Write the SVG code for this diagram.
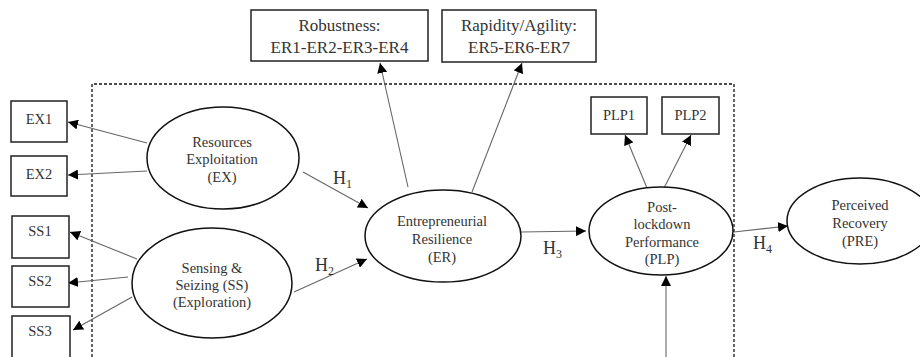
<svg xmlns="http://www.w3.org/2000/svg" width="920" height="357" viewBox="0 0 920 357">
<style>
  .box{fill:#fff;stroke:#222;stroke-width:1.5}
  .ell{fill:#fff;stroke:#111;stroke-width:1.5}
  .t{font-family:"Liberation Serif","Times New Roman",serif;font-size:14.5px;fill:#333;text-anchor:middle}
  .tb{font-family:"Liberation Serif","Times New Roman",serif;font-size:17px;fill:#333;text-anchor:middle}
  .h{font-family:"Liberation Serif","Times New Roman",serif;font-size:18px;fill:#333}
  .sub{font-size:12px}
  .c{stroke:#666;stroke-width:1.1;fill:none;marker-end:url(#ah)}
  .dash{fill:none;stroke:#111;stroke-width:1.3;stroke-dasharray:3 2}
</style>
<defs>
  <marker id="ah" viewBox="0 0 10 10" refX="10" refY="5" markerWidth="10" markerHeight="10" markerUnits="userSpaceOnUse" orient="auto">
    <path d="M0,0 L10,5 L0,10 z" fill="#000"/>
  </marker>
</defs>
<rect width="920" height="357" fill="#fff"/>
<path class="dash" d="M92,357 V84 H734 V357"/>

<g id="connectors">
  <line class="c" x1="147" y1="143" x2="68" y2="122"/>
  <line class="c" x1="147" y1="171" x2="68" y2="175"/>
  <line class="c" x1="137" y1="259" x2="70" y2="232"/>
  <line class="c" x1="128" y1="277" x2="68" y2="283"/>
  <line class="c" x1="132" y1="297" x2="73" y2="330"/>
  <line class="c" x1="303" y1="172" x2="368" y2="208"/>
  <line class="c" x1="294" y1="292" x2="367" y2="259"/>
  <line class="c" x1="408" y1="187" x2="380" y2="63"/>
  <line class="c" x1="472" y1="192" x2="522" y2="63"/>
  <line class="c" x1="521" y1="232" x2="586" y2="231"/>
  <line class="c" x1="647" y1="188" x2="625" y2="135"/>
  <line class="c" x1="664" y1="188" x2="691" y2="135"/>
  <line class="c" x1="734" y1="232" x2="788" y2="226"/>
  <line class="c" x1="666" y1="357" x2="666" y2="276"/>
  <text class="h" x="333" y="184">H<tspan class="sub" dy="4">1</tspan></text>
  <text class="h" x="315" y="271">H<tspan class="sub" dy="4">2</tspan></text>
  <text class="h" x="543" y="254">H<tspan class="sub" dy="4">3</tspan></text>
  <text class="h" x="753" y="249">H<tspan class="sub" dy="4">4</tspan></text>
</g>

<g id="robustness">
  <rect class="box" x="251" y="10" width="177" height="51"/>
  <text class="tb" x="339.5" y="31">Robustness:</text>
  <text class="tb" x="339.5" y="53">ER1-ER2-ER3-ER4</text>
</g>
<g id="rapidity">
  <rect class="box" x="442" y="10" width="154" height="52"/>
  <text class="tb" x="519" y="31">Rapidity/Agility:</text>
  <text class="tb" x="519" y="53">ER5-ER6-ER7</text>
</g>
<g id="ex1"><rect class="box" x="11" y="101" width="56" height="41"/><text class="t" x="39" y="124">EX1</text></g>
<g id="ex2"><rect class="box" x="11" y="156" width="56" height="40"/><text class="t" x="39" y="179">EX2</text></g>
<g id="ss1"><rect class="box" x="12" y="216" width="57" height="42"/><text class="t" x="40" y="236">SS1</text></g>
<g id="ss2"><rect class="box" x="12" y="266" width="57" height="41"/><text class="t" x="40" y="286">SS2</text></g>
<g id="ss3"><rect class="box" x="12" y="316" width="58" height="50"/><text class="t" x="40" y="336">SS3</text></g>
<g id="plp1"><rect class="box" x="591" y="97" width="56" height="37"/><text class="t" x="619" y="120">PLP1</text></g>
<g id="plp2"><rect class="box" x="662" y="97" width="57" height="37"/><text class="t" x="690.5" y="120">PLP2</text></g>

<g id="ex">
  <ellipse class="ell" cx="223" cy="158" rx="76" ry="51"/>
  <text class="t" x="222" y="147">Resources</text>
  <text class="t" x="222" y="164">Exploitation</text>
  <text class="t" x="222" y="182">(EX)</text>
</g>
<g id="ss">
  <ellipse class="ell" cx="212" cy="283" rx="80" ry="55"/>
  <text class="t" x="212" y="273">Sensing &amp;</text>
  <text class="t" x="212" y="290">Seizing (SS)</text>
  <text class="t" x="212" y="307">(Exploration)</text>
</g>
<g id="er">
  <ellipse class="ell" cx="443" cy="236" rx="78" ry="46"/>
  <text class="t" x="442" y="226">Entrepreneurial</text>
  <text class="t" x="442" y="244">Resilience</text>
  <text class="t" x="442" y="262">(ER)</text>
</g>
<g id="plp">
  <ellipse class="ell" cx="661" cy="231" rx="72" ry="44"/>
  <text class="t" x="662" y="212">Post-</text>
  <text class="t" x="662" y="229">lockdown</text>
  <text class="t" x="662" y="247">Performance</text>
  <text class="t" x="662" y="264">(PLP)</text>
</g>
<g id="pre">
  <ellipse class="ell" cx="860" cy="221" rx="73" ry="43"/>
  <text class="t" x="860" y="210">Perceived</text>
  <text class="t" x="860" y="228">Recovery</text>
  <text class="t" x="860" y="246">(PRE)</text>
</g>
</svg>
